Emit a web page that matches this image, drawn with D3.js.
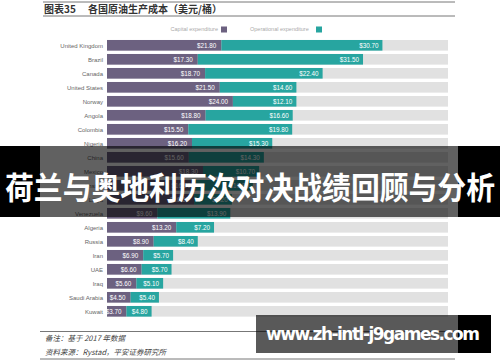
<!DOCTYPE html>
<html>
<head>
<meta charset="utf-8">
<script src="https://cdn.jsdelivr.net/npm/d3@7"></script>
<style>
  body { margin: 0; background: #fff; }
  svg { display: block; }
</style>
</head>
<body>
<svg id="chart"></svg>
<script>
const width = 500;
const height = 362;

// data (USD per barrel, 2017)
const countries = ['United Kingdom', 'Brazil', 'Canada', 'United States', 'Norway', 'Angola', 'Colombia', 'Nigeria', 'China', 'Mexico', 'Kazakhstan', 'Libya', 'Venezuela', 'Algeria', 'Russia', 'Iran', 'UAE', 'Iraq', 'Saudi Arabia', 'Kuwait'];
const capex = [21.8, 17.3, 18.7, 21.5, 24.0, 18.8, 15.5, 16.2, 15.6, 18.3, 16.9, 16.6, 9.6, 13.2, 8.9, 6.9, 6.6, 5.6, 4.5, 3.7];
const opex = [30.7, 31.5, 22.4, 14.6, 12.1, 16.6, 19.8, 15.3, 14.3, 10.7, 10.9, 7.2, 13.9, 7.2, 8.4, 5.7, 5.7, 5.1, 5.4, 4.8];
const seriesNames = ['Capital expenditure', 'Operational expenditure'];
const colors = ['#6c6180', '#27a5a0'];

const svg = d3.select("#chart")
            .attr("width", width)
            .attr("height", height)
            .style("font-family", "'Liberation Sans', Arial, sans-serif");

// header
svg.append("line").attr("x1", 43).attr("x2", 455).attr("y1", 2).attr("y2", 2)
    .attr("stroke", "#777").attr("stroke-width", 1);
svg.append("line").attr("x1", 43).attr("x2", 455).attr("y1", 16).attr("y2", 16)
    .attr("stroke", "#777").attr("stroke-width", 1);
svg.append("text")
    .attr("x", 44).attr("y", 13)
    .style("font-family", "'Noto Sans CJK SC', sans-serif")
    .style("font-size", "10px")
    .style("font-weight", "bold")
    .attr("fill", "#333")
    .text("图表35\u3000 各国原油生产成本（美元/桶）");

var x = d3.scaleLinear().domain([0, 65]).range([107, 448]);
var y = d3.scaleBand().domain(countries).range([38.3, 318.3])
          .paddingInner(0.24).paddingOuter(0.12);

var rows = countries.map((c, i) => ({name: c, capex: capex[i], opex: opex[i]}));

// legend
svg.append("text").attr("x", 218).attr("y", 31).attr("text-anchor", "end")
    .style("font-size", "5.5px").attr("fill", "#aaa").text(seriesNames[0]);
svg.append("rect").attr("x", 221).attr("y", 26.5).attr("width", 6).attr("height", 6).attr("fill", colors[0]);
svg.append("text").attr("x", 250).attr("y", 31)
    .style("font-size", "5.5px").attr("fill", "#aaa").text(seriesNames[1]);
svg.append("rect").attr("x", 316).attr("y", 26.5).attr("width", 6).attr("height", 6).attr("fill", colors[1]);

// background tracks
svg.selectAll()
    .data(rows)
    .enter()
    .append("rect")
    .attr("x", x(0))
    .attr("y", d => y(d.name))
    .attr("width", x(65) - x(0))
    .attr("height", y.bandwidth())
    .attr("fill", "#e1e1e1");

// capex segment
svg.selectAll()
    .data(rows)
    .enter()
    .append("rect")
    .attr("x", x(0))
    .attr("y", d => y(d.name))
    .attr("width", d => x(d.capex) - x(0))
    .attr("height", y.bandwidth())
    .attr("fill", colors[0]);

// opex segment
svg.selectAll()
    .data(rows)
    .enter()
    .append("rect")
    .attr("x", d => x(d.capex))
    .attr("y", d => y(d.name))
    .attr("width", d => x(d.capex + d.opex) - x(d.capex))
    .attr("height", y.bandwidth())
    .attr("fill", colors[1]);

// value labels
svg.selectAll()
    .data(rows)
    .enter()
    .append("text")
    .attr("x", d => x(d.capex) - 5)
    .attr("y", d => y(d.name) + y.bandwidth() / 2 + 2.2)
    .attr("text-anchor", "end")
    .style("font-size", "6.3px")
    .attr("fill", "#fff")
    .text(d => "$" + d.capex.toFixed(2));
svg.selectAll()
    .data(rows)
    .enter()
    .append("text")
    .attr("x", d => x(d.capex + d.opex) - 4)
    .attr("y", d => y(d.name) + y.bandwidth() / 2 + 2.2)
    .attr("text-anchor", "end")
    .style("font-size", "6.3px")
    .attr("fill", "#fff")
    .text(d => "$" + d.opex.toFixed(2));

// country names
svg.selectAll()
    .data(rows)
    .enter()
    .append("text")
    .attr("x", 103)
    .attr("y", d => y(d.name) + y.bandwidth() / 2 + 2.2)
    .attr("text-anchor", "end")
    .style("font-size", "6px")
    .attr("fill", "#666")
    .text(d => d.name);

// footer
svg.append("line").attr("x1", 40).attr("x2", 455).attr("y1", 331.5).attr("y2", 331.5)
    .attr("stroke", "#777").attr("stroke-width", 1);
svg.append("line").attr("x1", 40).attr("x2", 455).attr("y1", 359).attr("y2", 359)
    .attr("stroke", "#777").attr("stroke-width", 1);
svg.append("text").attr("x", 45).attr("y", 341)
    .style("font-family", "'Noto Sans CJK SC', sans-serif")
    .style("font-size", "7.5px").style("font-style", "italic")
    .attr("fill", "#444").text("备注：基于 2017 年数据");
svg.append("text").attr("x", 45).attr("y", 355)
    .style("font-family", "'Noto Sans CJK SC', sans-serif")
    .style("font-size", "7.5px").style("font-style", "italic")
    .attr("fill", "#444").text("资料来源：Rystad，平安证券研究所");

// title banner over the chart
svg.append("rect").attr("x", 0).attr("y", 146).attr("width", width).attr("height", 71)
    .attr("fill", "#000").attr("fill-opacity", 0.62);
svg.append("rect").attr("x", 0).attr("y", 146).attr("width", 40).attr("height", 71).attr("fill", "#000");
svg.append("rect").attr("x", 458).attr("y", 146).attr("width", 42).attr("height", 71).attr("fill", "#000");
svg.append("text")
    .attr("x", 5).attr("y", 199)
    .style("font-family", "'Noto Sans CJK SC', sans-serif")
    .style("font-size", "31px")
    .style("font-weight", "bold")
    .attr("fill", "#fff")
    .attr("textLength", 490)
    .attr("lengthAdjust", "spacingAndGlyphs")
    .text("荷兰与奥地利历次对决战绩回顾与分析");

// watermark
svg.append("rect").attr("x", 256).attr("y", 315).attr("width", 202).attr("height", 38)
    .attr("fill", "#000").attr("fill-opacity", 0.65);
svg.append("rect").attr("x", 458).attr("y", 315).attr("width", 33).attr("height", 38).attr("fill", "#000");
svg.append("text")
    .attr("x", 266).attr("y", 340)
    .style("font-family", "'DejaVu Sans', sans-serif")
    .style("font-size", "17px")
    .style("font-weight", "bold")
    .attr("fill", "#fff")
    .attr("textLength", 214)
    .text("www.zh-intl-j9games.com");
</script>
</body>
</html>
